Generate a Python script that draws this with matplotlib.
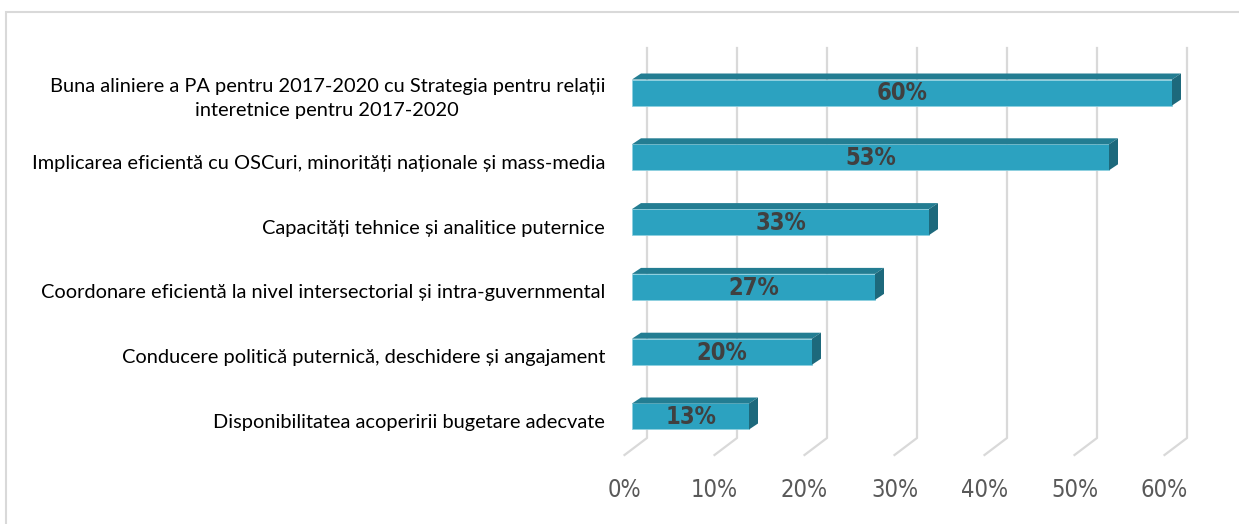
import matplotlib
matplotlib.use("Agg")
import matplotlib.pyplot as plt
from matplotlib.patches import Polygon, Rectangle

# --- Données ---
categories = [
    "Buna aliniere a PA pentru 2017-2020 cu Strategia pentru relații\ninteretnice pentru 2017-2020",
    "Implicarea eficientă cu OSCuri, minorități naționale și mass-media",
    "Capacități tehnice și analitice puternice",
    "Coordonare eficientă la nivel intersectorial și intra-guvernmental",
    "Conducere politică puternică, deschidere și angajament",
    "Disponibilitatea acoperirii bugetare adecvate",
]
values = [60, 53, 33, 27, 20, 13]
ticks = [0, 10, 20, 30, 40, 50, 60]
tick_labels = ["0%", "10%", "20%", "30%", "40%", "50%", "60%"]

# --- Mise en page (en pixels de la figure) ---
W, H = 1239, 524
X0, X60 = 632, 1172          # face avant des barres : 0% et 60%
Y_FIRST, STEP = 92.5, 64.8   # centre de la première barre, pas entre barres
AX_TOP, AX_BOT = 40, 470
PX_X = 60 / (X60 - X0)       # % par pixel
PX_Y = 1 / STEP              # unité de catégorie par pixel

FRONT = "#2CA2C0"
TOP = "#237D92"
SIDE = "#1D697C"
GRID = "#D9D9D9"

fig = plt.figure(figsize=(W / 100, H / 100), dpi=100)
ax = fig.add_axes([X0 / W, 1 - AX_BOT / H, (X60 - X0) / W, (AX_BOT - AX_TOP) / H])
ax.set_xlim(0, 60)
ax.set_ylim((AX_BOT - Y_FIRST) / STEP, (AX_TOP - Y_FIRST) / STEP)
ax.axis("off")

# cadre gris clair du graphique
fig.patches.append(Rectangle((6 / W, -0.05), 1.1, 1 - 12 / H + 0.05, transform=fig.transFigure,
                             fill=False, edgecolor="#D9D9D9", lw=1.5))

# --- Quadrillage 3D (mur du fond + sol) ---
back_dx = 15 * PX_X
front_dx = -7.5 * PX_X
y_top = (48 - Y_FIRST) * PX_Y
y_back = (438 - Y_FIRST) * PX_Y
y_front = (455 - Y_FIRST) * PX_Y
for t, lab in zip(ticks, tick_labels):
    ax.plot([t + back_dx, t + back_dx, t + front_dx], [y_top, y_back, y_front],
            color=GRID, lw=1.6, zorder=1, clip_on=False)
    ax.text(t + front_dx, (490 - Y_FIRST) * PX_Y, lab, ha="center", va="center",
            fontsize=17, color="#595959", fontstretch="condensed", clip_on=False)

# --- Barres 3D ---
h = 26 * PX_Y
ddx = 9 * PX_X
ddy = 6 * PX_Y
idx = list(range(len(values)))
ax.barh(idx, values, height=h, color=FRONT, edgecolor="#8FD0E0", lw=0.6, zorder=3, clip_on=False)
for i, v in zip(idx, values):
    top = i - h / 2
    bot = i + h / 2
    ax.add_patch(Polygon([(0, top), (v, top), (v + ddx, top - ddy), (ddx, top - ddy)],
                         closed=True, facecolor=TOP, edgecolor="none", zorder=3, clip_on=False))
    ax.add_patch(Polygon([(v, top), (v + ddx, top - ddy), (v + ddx, bot - ddy), (v, bot)],
                         closed=True, facecolor=SIDE, edgecolor="none", zorder=3, clip_on=False))
    ax.text(v / 2, i + 1 * PX_Y, f"{v}%", ha="center", va="center", fontsize=17,
            fontweight="semibold", color="#404040", fontstretch="condensed", zorder=4)

# --- Étiquettes des catégories ---
for i, cat in zip(idx, categories):
    ax.text((605 - X0) * PX_X, i + 6 * PX_Y, cat, ha="right", va="center",
            multialignment="center", fontsize=14.4, family="Lato",
            color="#000000", linespacing=1.5, clip_on=False)

fig.savefig("out.png", dpi=100)
